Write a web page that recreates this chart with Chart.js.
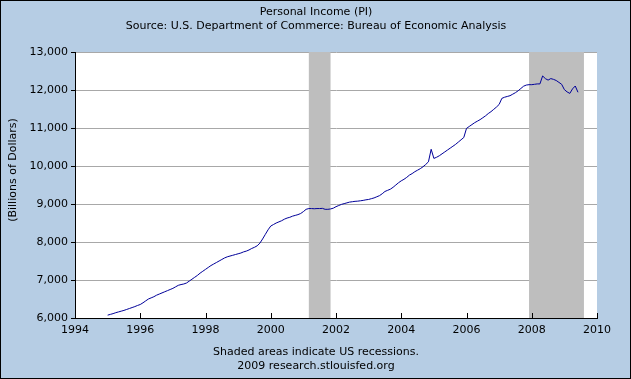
<!DOCTYPE html>
<html><head><meta charset="utf-8">
<script src="https://cdn.jsdelivr.net/npm/chart.js@4.4.1/dist/chart.umd.min.js"></script>
<style>html,body{margin:0;padding:0;background:#b6cde4;} #wrap{width:631px;height:379px;position:relative}</style>
</head><body><div id="wrap"><canvas id="c" width="631" height="379"></canvas></div>
<script>
const titleLines = ['Personal Income (PI)', 'Source: U.S. Department of Commerce: Bureau of Economic Analysis'];
const footerLines = ['Shaded areas indicate US recessions.', '2009 research.stlouisfed.org'];
const yAxisTitle = '(Billions of Dollars)';
const startYear = 1995;
const piValues = [
  6075, 6095, 6115, 6140, 6160, 6180, 6200, 6225, 6250, 6275, 6300, 6330,
  6355, 6400, 6450, 6500, 6530, 6560, 6600, 6630, 6660, 6690, 6720, 6750,
  6780, 6820, 6860, 6880, 6895, 6920, 6970, 7020, 7070, 7120, 7180, 7230,
  7280, 7330, 7380, 7420, 7460, 7500, 7540, 7580, 7610, 7630, 7650, 7670,
  7690, 7710, 7740, 7760, 7790, 7830, 7860, 7900, 7970, 8080, 8200, 8320,
  8420, 8460, 8500, 8530, 8560, 8600, 8630, 8650, 8680, 8700, 8720, 8750,
  8800, 8860, 8880, 8880, 8875, 8880, 8880, 8885, 8860, 8860, 8870, 8890,
  8930, 8960, 8990, 9010, 9030, 9050, 9060, 9070, 9075, 9085, 9095, 9110,
  9120, 9140, 9160, 9190, 9220, 9270, 9330, 9360, 9390, 9440, 9500, 9560,
  9610, 9650, 9700, 9760, 9800, 9850, 9890, 9930, 9980, 10040, 10110, 10440,
  10200, 10230, 10270, 10320, 10370, 10420, 10470, 10520, 10570, 10630, 10690, 10750,
  10990, 11040, 11090, 11140, 11180, 11220, 11270, 11320, 11380, 11430, 11490, 11550,
  11620, 11780, 11810, 11830, 11850, 11890, 11930, 11980, 12040, 12100, 12130, 12140,
  12140, 12150, 12160, 12160, 12370, 12300, 12260, 12300, 12280, 12250, 12200, 12150,
  12010, 11950, 11910, 12030, 12105, 11940
];
const recessionStarts = [2001.167, 2007.917];
const recessionEnds = [2001.833, 2009.6];
const xTickValues = [1994, 1996, 1998, 2000, 2002, 2004, 2006, 2008, 2010];
const yMin = 6000, yMax = 13000, yStep = 1000;

const points = piValues.map((v, i) => ({ x: startYear + i / 12, y: v }));
const FONT = '"DejaVu Sans", Verdana, sans-serif';

const decor = {
  id: 'decor',
  beforeDraw(chart) {
    const { ctx, chartArea: a } = chart;
    ctx.save();
    ctx.fillStyle = '#b6cde4';
    ctx.fillRect(0, 0, chart.width, chart.height);
    ctx.fillStyle = '#ffffff';
    ctx.fillRect(a.left, a.top, a.right - a.left, a.bottom - a.top);
    ctx.restore();
  },
  beforeDatasetsDraw(chart) {
    const { ctx, chartArea: a, scales: { x } } = chart;
    ctx.save();
    ctx.fillStyle = '#bebebe';
    recessionStarts.forEach((s, i) => {
      const x1 = Math.max(a.left, x.getPixelForValue(s));
      const x2 = Math.min(a.right, x.getPixelForValue(recessionEnds[i]));
      ctx.fillRect(x1, a.top, x2 - x1, a.bottom - a.top);
    });
    ctx.restore();
  },
  afterDatasetsDraw(chart) {
    const { ctx, chartArea: a, scales: { x } } = chart;
    ctx.save();
    ctx.strokeStyle = '#000';
    ctx.lineWidth = 1;
    ctx.beginPath();
    ctx.moveTo(a.left + 0.5, a.top);
    ctx.lineTo(a.left + 0.5, a.bottom + 0.5);
    ctx.lineTo(a.right, a.bottom + 0.5);
    xTickValues.forEach(v => {
      const px = Math.round(x.getPixelForValue(v)) + 0.5;
      ctx.moveTo(px, a.bottom - 5);
      ctx.lineTo(px, a.bottom);
    });
    ctx.stroke();
    ctx.fillStyle = '#000';
    ctx.font = '11px ' + FONT;
    ctx.textAlign = 'center';
    ctx.textBaseline = 'middle';
    ctx.fillText(titleLines[0], 316, 12.5);
    ctx.fillText(titleLines[1], 316, 26.5);
    ctx.fillText(footerLines[0], 316, 352);
    ctx.fillText(footerLines[1], 316, 366);
    ctx.save();
    ctx.translate(13.5, 170);
    ctx.rotate(-Math.PI / 2);
    ctx.fillText(yAxisTitle, 0, 0);
    ctx.restore();
    ctx.strokeRect(0.5, 0.5, chart.width - 1, chart.height - 1);
    ctx.restore();
  }
};

new Chart(document.getElementById('c'), {
  type: 'line',
  data: {
    datasets: [{
      data: points,
      borderColor: '#000099',
      borderWidth: 1,
      pointRadius: 0,
      tension: 0,
      fill: false
    }]
  },
  options: {
    responsive: false,
    animation: false,
    devicePixelRatio: 1,
    layout: { padding: { left: 0, right: 34, top: 52, bottom: 31 } },
    plugins: { legend: { display: false }, tooltip: { enabled: false }, title: { display: false } },
    scales: {
      x: {
        type: 'linear',
        min: 1994, max: 2010,
        afterFit(scale) { scale.height = 30; },
        afterBuildTicks(scale) { scale.ticks = xTickValues.map(v => ({ value: v })); },
        ticks: {
          callback: v => String(v),
          font: { family: FONT, size: 11 },
          color: '#000',
          padding: 6,
          maxRotation: 0,
          autoSkip: false
        },
        grid: { display: true, drawOnChartArea: false, drawTicks: false },
        border: { display: true, color: '#000', width: 1 }
      },
      y: {
        min: yMin, max: yMax,
        afterFit(scale) { scale.width = 75; },
        ticks: {
          stepSize: yStep,
          callback: v => v.toLocaleString('en-US'),
          font: { family: FONT, size: 11 },
          color: '#000',
          padding: 3
        },
        grid: { color: '#a8a8a8', tickColor: '#000', tickLength: 4, drawTicks: true },
        border: { display: true, color: '#000', width: 1 }
      }
    }
  },
  plugins: [decor]
});
</script>
</body></html>
